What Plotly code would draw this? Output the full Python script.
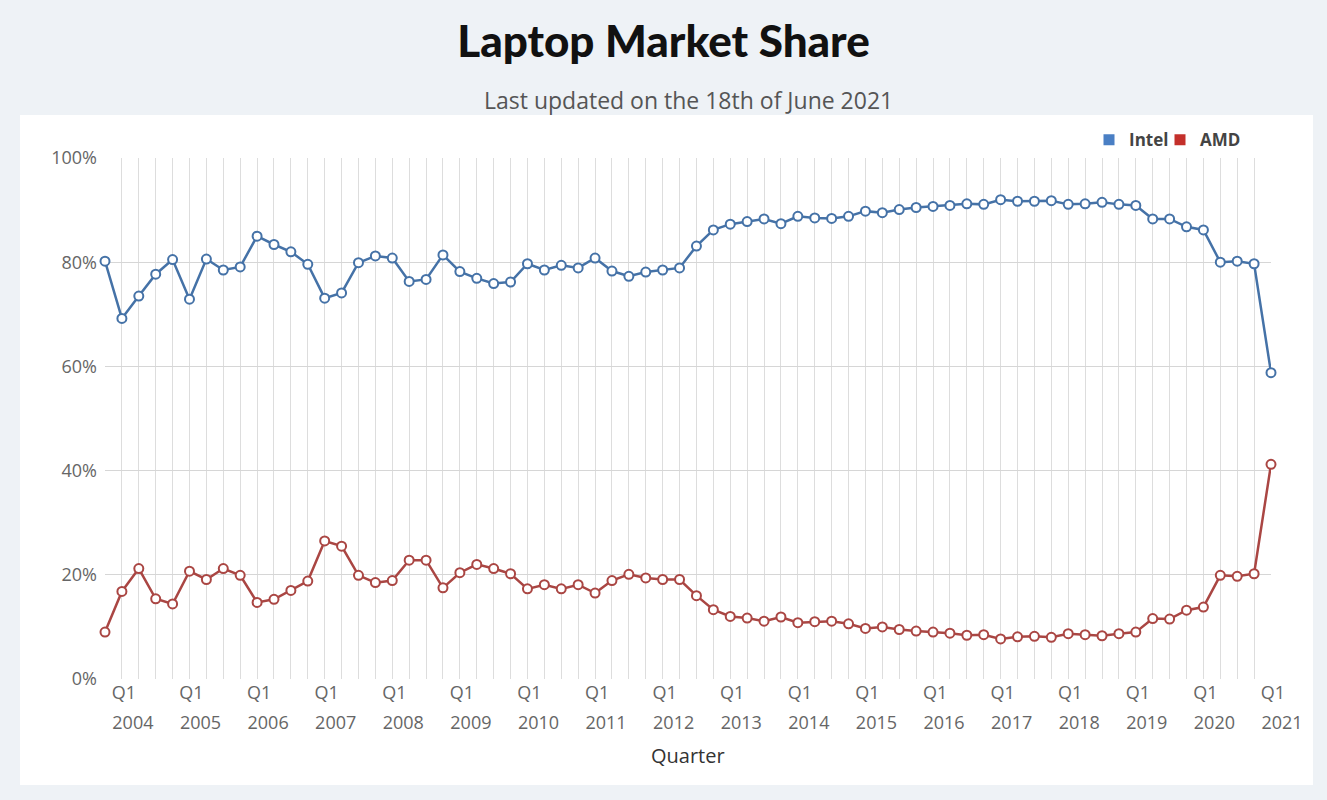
import plotly.graph_objects as go

# Quarters from Q4 2003 to Q1 2021
quarters = ["Q4 2003"] + [f"Q{q} {y}" for y in range(2004, 2021) for q in range(1, 5)] + ["Q1 2021"]

intel = [80.2, 69.2, 73.5, 77.7, 80.5, 72.9, 80.6, 78.5, 79.1, 85.0,
         83.4, 82.0, 79.6, 73.1, 74.1, 79.9, 81.2, 80.8, 76.3, 76.7,
         81.4, 78.2, 76.9, 75.9, 76.2, 79.7, 78.5, 79.4, 78.9, 80.8,
         78.3, 77.3, 78.1, 78.5, 78.9, 83.1, 86.2, 87.3, 87.8, 88.3,
         87.4, 88.8, 88.5, 88.4, 88.8, 89.8, 89.5, 90.1, 90.5, 90.7,
         90.9, 91.2, 91.1, 92.0, 91.7, 91.7, 91.8, 91.1, 91.2, 91.5,
         91.1, 90.9, 88.3, 88.3, 86.8, 86.2, 80.0, 80.2, 79.7, 58.8]

amd = [9.0, 16.8, 21.2, 15.4, 14.4, 20.7, 19.1, 21.2, 19.9, 14.7,
       15.3, 17.0, 18.8, 26.5, 25.5, 19.9, 18.5, 18.9, 22.8, 22.8,
       17.5, 20.4, 22.0, 21.2, 20.2, 17.3, 18.1, 17.3, 18.1, 16.5,
       18.9, 20.1, 19.4, 19.1, 19.1, 16.0, 13.3, 12.0, 11.7, 11.1,
       11.9, 10.8, 11.0, 11.1, 10.6, 9.7, 10.0, 9.5, 9.2, 9.0,
       8.8, 8.4, 8.5, 7.7, 8.1, 8.2, 8.0, 8.7, 8.5, 8.3,
       8.7, 9.0, 11.6, 11.5, 13.2, 13.8, 19.9, 19.7, 20.2, 41.2]

y_ticks = [0, 20, 40, 60, 80, 100]
y_ticktext = [f"{v}%" for v in y_ticks]

x_pos = list(range(len(quarters)))
tick_idx = [i for i, q in enumerate(quarters) if q.startswith("Q1")]
tick_q = [quarters[i].split()[0] for i in tick_idx]
tick_year = [quarters[i].split()[1] for i in tick_idx]

INTEL_C = "#4572A7"
AMD_C = "#AA4643"
TICK_FONT = dict(family="Open Sans", size=18, color="#666666")
LEG_FONT = dict(family="Open Sans", size=17, color="#444444", weight="bold")
BG = "#eef2f6"

fig = go.Figure()
for name, vals, col in [("Intel", intel, INTEL_C), ("AMD", amd, AMD_C)]:
    fig.add_trace(go.Scatter(
        x=x_pos, y=vals, name=name, mode="lines+markers",
        line=dict(color=col, width=2.5),
        marker=dict(size=9, color="white", line=dict(color=col, width=2)),
        showlegend=False, cliponaxis=False,
        customdata=quarters, hovertemplate="%{customdata}: %{y}%<extra>" + name + "</extra>",
    ))

# legend entries (square symbols), on the overlay axis carrying year labels
for name, col, leg in [("Intel", "#4a7fc4", "legend"), ("AMD", "#c4302b", "legend2")]:
    fig.add_trace(go.Scatter(
        x=[None], y=[None], name=name, mode="markers", xaxis="x2",
        marker=dict(symbol="square", size=11, color=col),
        showlegend=True, legend=leg,
    ))

fig.update_layout(
    width=1327, height=800,
    paper_bgcolor=BG, plot_bgcolor="white",
    margin=dict(l=105, r=56, t=158, b=121),
    font=dict(family="Open Sans", color="#444444"),
    title=dict(text="Laptop Market Share", x=0.5, xanchor="center",
               y=1 - 42 / 800, yanchor="middle", yref="container",
               font=dict(family="Lato", size=44, color="#111111", weight=900)),
    xaxis=dict(range=[0, len(quarters) - 1], tickmode="array", tickvals=tick_idx, ticktext=tick_q,
               showgrid=True, gridcolor="#dddddd", gridwidth=1, zeroline=False, showline=False,
               ticks="", tickfont=TICK_FONT, ticklabelshift=2, ticklabelstandoff=1,
               minor=dict(tickmode="linear", tick0=0, dtick=1, showgrid=True, gridcolor="#dddddd", gridwidth=1),
               fixedrange=True),
    xaxis2=dict(range=[0, len(quarters) - 1], overlaying="x", anchor="y", side="bottom",
                tickmode="array", tickvals=tick_idx, ticktext=tick_year,
                showgrid=False, zeroline=False, showline=False, ticks="",
                tickfont=TICK_FONT, ticklabelshift=11, ticklabelstandoff=31, fixedrange=True),
    yaxis=dict(range=[0, 100], tickmode="array", tickvals=y_ticks, ticktext=y_ticktext,
               showgrid=True, gridcolor="#d6d6d6", gridwidth=1, zeroline=False, showline=False,
               ticks="", tickfont=TICK_FONT, ticklabelstandoff=7, fixedrange=True),
    legend=dict(orientation="h", x=(1174 - 105) / 1166, xanchor="right", y=1.034, yanchor="middle",
                bgcolor="rgba(0,0,0,0)", font=LEG_FONT, itemwidth=30),
    legend2=dict(orientation="h", x=(1246 - 105) / 1166, xanchor="right", y=1.034, yanchor="middle",
                 bgcolor="rgba(0,0,0,0)", font=LEG_FONT, itemwidth=30),
    shapes=[dict(type="rect", xref="paper", yref="paper", x0=-0.0729, x1=1.036, y0=-0.2035, y1=1.0825,
                 fillcolor="white", line=dict(width=0), layer="below")],
    annotations=[
        dict(text="Last updated on the 18th of June 2021", xref="paper", yref="paper",
             x=0.5, y=(679 - 100) / 521, xanchor="center", yanchor="middle", showarrow=False,
             font=dict(family="Open Sans", size=23, color="#555555")),
        dict(text="Quarter", xref="paper", yref="paper", x=0.5, y=(679 - 755) / 521,
             xanchor="center", yanchor="middle", showarrow=False,
             font=dict(family="Open Sans", size=20, color="#333333")),
    ],
)

fig.write_html(
    "out.html",
    config={"displayModeBar": False},
    post_script=f"document.body.style.margin='0px';document.body.style.backgroundColor='{BG}';",
)
